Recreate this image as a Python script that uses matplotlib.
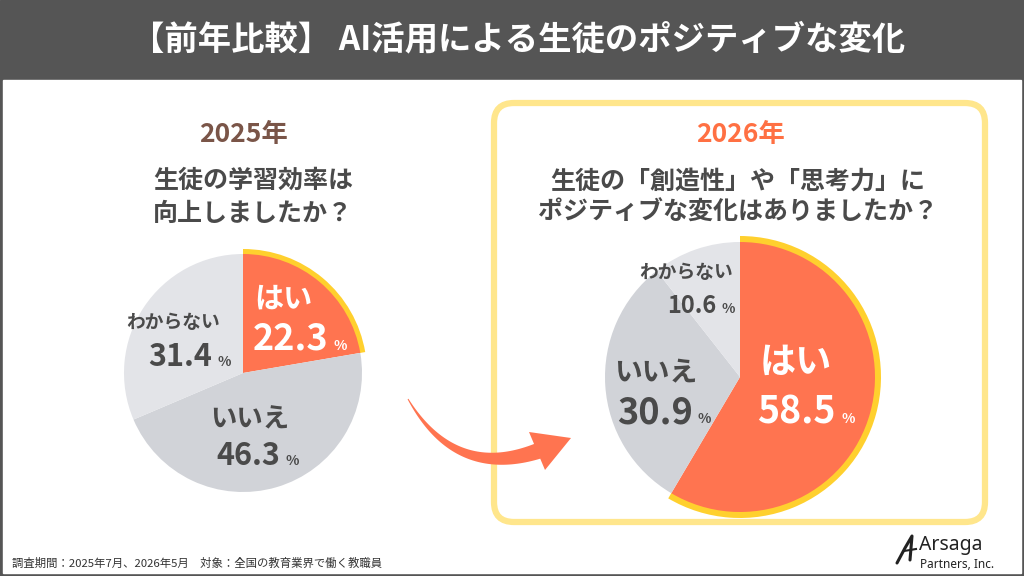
import numpy as np
import matplotlib
matplotlib.use("Agg")
import matplotlib.pyplot as plt
from matplotlib.patches import Rectangle, FancyBboxPatch, Wedge, Polygon

plt.rcParams['font.family'] = ['Noto Sans CJK JP', 'DejaVu Sans']

W, H = 1024, 576

# ---- data ----
title = "【前年比較】 AI活用による生徒のポジティブな変化"
answers = ["はい", "いいえ", "わからない"]
year_2025 = "2025年"
year_2026 = "2026年"
question_2025 = ["生徒の学習効率は", "向上しましたか？"]
question_2026 = ["生徒の「創造性」や「思考力」に", "ポジティブな変化はありましたか？"]
values_2025 = [22.3, 46.3, 31.4]
values_2026 = [58.5, 30.9, 10.6]
footnote = "調査期間：2025年7月、2026年5月　対象：全国の教育業界で働く教職員"

# ---- colours ----
DARK = "#555555"
TEXT = "#4a4a4a"
ORANGE = "#FF7450"
GRAY1 = "#D1D3D8"
GRAY2 = "#E3E4E8"
RIM = "#FFD02E"
BOX = "#FFE68C"
BROWN = "#7A5548"
ORANGE_TXT = "#FF7043"


def Y(y):
    # pixel row (top down) -> data y (bottom up)
    return H - y


fig = plt.figure(figsize=(W / 100, H / 100), dpi=100)
ax = fig.add_axes([0, 0, 1, 1])

# frame + header
ax.add_patch(Rectangle((0, 0), W, H, color=DARK, zorder=0))
ax.add_patch(Rectangle((3, 3), W - 6, H - 3 - 80, color="white", zorder=0.5))
ax.text(518, Y(40), title, color="white", fontsize=24, fontweight="bold",
        ha="center", va="center")

# highlight box around 2026
ax.add_patch(FancyBboxPatch((494 + 20, Y(522) + 20), 491 - 40, 419 - 40,
                            boxstyle="round,pad=20", fc="none", ec=BOX, lw=4.5, zorder=1))


def draw_pie(values, cx, cy, r, rim):
    ax.pie(values, center=(cx, Y(cy)), radius=r, startangle=90, counterclock=False,
           colors=[ORANGE, GRAY1, GRAY2], wedgeprops=dict(linewidth=0, zorder=3))
    frac = values[0] / sum(values)
    ax.add_patch(Wedge((cx, Y(cy)), r + rim, 90 - frac * 360, 90, width=rim + 1,
                       fc=RIM, ec="none", zorder=2))


def label(name, nx, ny, nsize, num, rx, base, size, color):
    ax.text(nx, Y(ny), name, color=color, fontsize=nsize, fontweight="bold",
            ha="center", va="center", zorder=5)
    ax.text(rx, Y(base), f"{num:.1f}", color=color, fontsize=size, fontweight="bold",
            ha="right", va="baseline", zorder=5)
    ax.text(rx + 5, Y(base), "%", color=color, fontsize=10, fontweight="bold",
            ha="left", va="baseline", zorder=5)


# ---- 2025 ----
ax.text(243, Y(135), year_2025, color=BROWN, fontsize=19, fontweight="bold",
        ha="center", va="center")
for i, line in enumerate(question_2025):
    ax.text(253, Y(181 + 33 * i), line, color=TEXT, fontsize=18, fontweight="bold",
            ha="center", va="center")
draw_pie(values_2025, 243, 373, 119, 5)
label(answers[0], 283, 299, 21, values_2025[0], 328, 350, 26, "white")
label(answers[2], 173, 322, 13.5, values_2025[2], 212, 366, 22, TEXT)
label(answers[1], 250, 420, 19, values_2025[1], 280, 465, 22, TEXT)

# ---- 2026 ----
ax.text(740, Y(135), year_2026, color=ORANGE_TXT, fontsize=19, fontweight="bold",
        ha="center", va="center")
for i, line in enumerate(question_2026):
    ax.text(738, Y(182 + 31 * i), line, color=TEXT, fontsize=18, fontweight="bold",
            ha="center", va="center")
draw_pie(values_2026, 740, 377, 135, 6)
label(answers[0], 796, 362, 26, values_2026[0], 836, 423, 27, "white")
label(answers[2], 686, 273, 13.5, values_2026[2], 716, 313, 17, TEXT)
label(answers[1], 656, 373, 20, values_2026[1], 693, 423, 26, TEXT)

# ---- curved arrow ----
p0, p1, p2 = np.array([408, 399]), np.array([455, 480]), np.array([538, 451])
t = np.linspace(0, 1, 60)[:, None]
c = (1 - t) ** 2 * p0 + 2 * (1 - t) * t * p1 + t ** 2 * p2
d = 2 * (1 - t) * (p1 - p0) + 2 * t * (p2 - p1)
n = np.column_stack([-d[:, 1], d[:, 0]]) / np.linalg.norm(d, axis=1)[:, None]
w = (0.5 + 7.5 * t.ravel())[:, None]
upper, lower = c + n * w, c - n * w
body = np.vstack([upper, lower[::-1]])
body[:, 1] = Y(body[:, 1])
ax.add_patch(Polygon(body, closed=True, fc=ORANGE, ec="none", zorder=4))
head = np.array([[529, 432], [571, 438], [545, 470]], dtype=float)
head[:, 1] = Y(head[:, 1])
ax.add_patch(Polygon(head, closed=True, fc=ORANGE, ec="none", zorder=4))

# ---- footer ----
ax.text(12, Y(563), footnote, color="#333333", fontsize=8.2, ha="left", va="center")
ax.plot([897, 905, 912, 910], [Y(563), Y(548), Y(536), Y(560)], color="#222222",
        lw=2.2, solid_capstyle="round")
ax.plot([904, 916], [Y(551), Y(549)], color="#222222", lw=1.5)
ax.text(919, Y(545), "Arsaga", color="#222222", fontsize=14, fontweight="bold",
        ha="left", va="center", family="Noto Sans")
ax.text(920, Y(564), "Partners, Inc.", color="#222222", fontsize=8.5, fontweight="bold",
        ha="left", va="center", family="Noto Sans")

ax.set_xlim(0, W)
ax.set_ylim(0, H)
ax.set_aspect("equal")
ax.axis("off")
fig.savefig("out.png", dpi=100)
